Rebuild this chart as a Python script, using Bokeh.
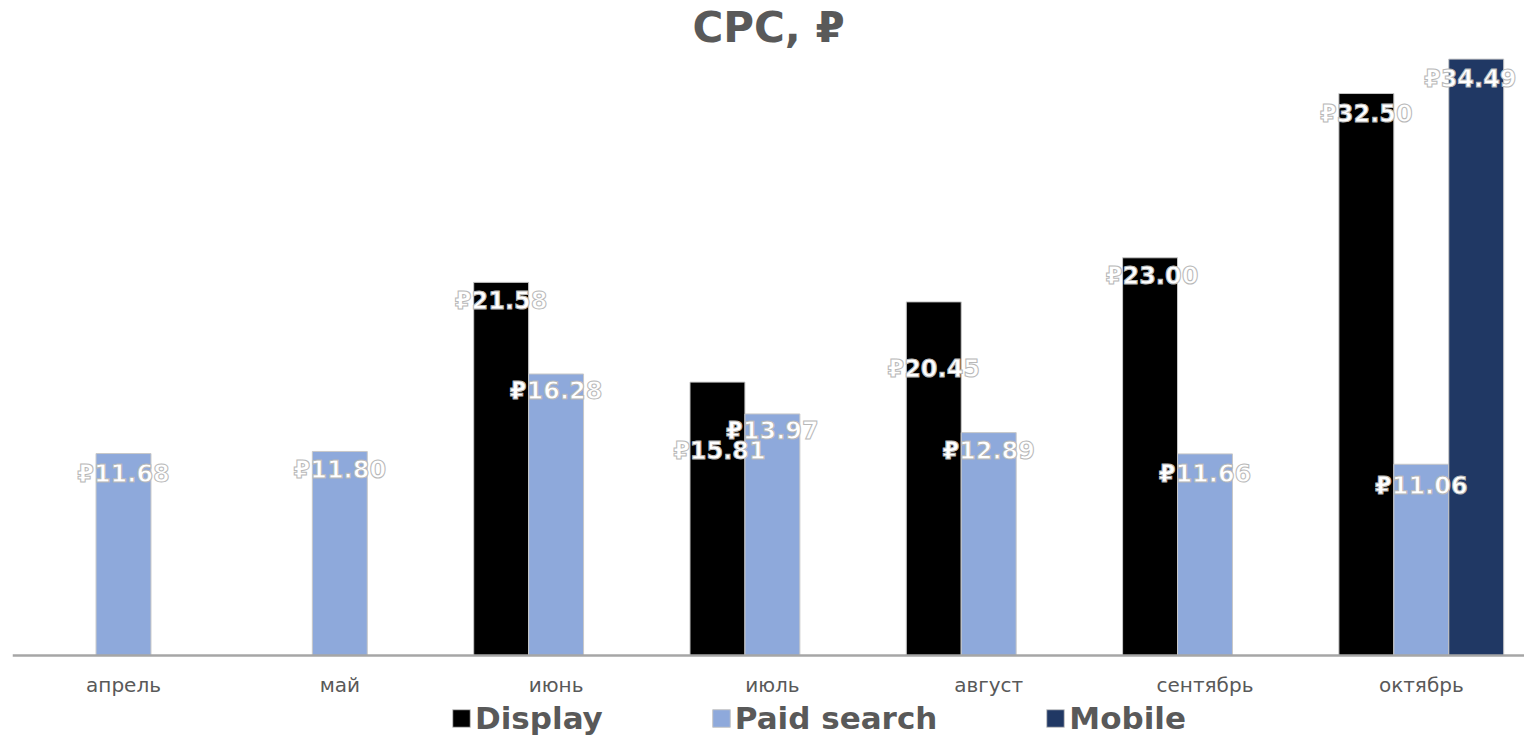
from bokeh.plotting import figure
from bokeh.models import ColumnDataSource, Range1d, Legend, LegendItem, Span
from bokeh.core.properties import value
from bokeh.embed import file_html
from bokeh.resources import INLINE

# ---- data ----
months = ["апрель", "май", "июнь", "июль", "август", "сентябрь", "октябрь"]
display_cpc = [None, None, 21.58, 15.81, 20.45, 23.00, 32.50]
paid_cpc = [11.68, 11.80, 16.28, 13.97, 12.89, 11.66, 11.06]
mobile_cpc = [None, None, None, None, None, None, 34.49]
series_names = ["Display", "Paid search", "Mobile"]
currency = "₽"

# ---- styles ----
colors = ["#000000", "#8EA9DB", "#203864"]
offsets = [-0.254, 0.0, 0.254]
bar_w = 0.254
# data label distance below the bar top (screen px) and horizontal nudge
label_dy = [
    [0, 0, 19, 69, 67, 18, 20],
    [20, 19, 17, 17, 18, 20, 22],
    [0, 0, 0, 0, 0, 0, 20],
]
label_dx = [
    [0, 0, 0, 2, 0, 2, 0],
    [0, 0, 0, 0, 0, 0, 0],
    [0, 0, 0, 0, 0, 0, -6],
]
FONT = "DejaVu Sans"
GRAY = "#595959"

p = figure(
    x_range=Range1d(-0.5132, 6.4771),
    y_range=Range1d(-4.80, 34.93),
    width=1524, height=738,
    output_backend="svg", toolbar_location=None,
    min_border_left=12, min_border_right=0, min_border_top=0, min_border_bottom=0,
)
p.title.text = "CPC, " + currency
p.title.align = "center"
p.title.text_font = FONT
p.title.text_font_style = "bold"
p.title.text_font_size = "42px"
p.title.text_color = GRAY
p.title.standoff = 0

p.outline_line_color = None
p.xgrid.visible = False
p.ygrid.visible = False
p.xaxis.visible = False
p.yaxis.visible = False

# category axis: baseline + month labels
p.add_layout(Span(location=0, dimension="width", line_color="#a6a6a6", line_width=2.5))
cat_idx = list(range(len(months)))
cat_src = ColumnDataSource(dict(x=cat_idx, y=[0] * len(months), month=months))
p.text(x="x", y="y", text="month", source=cat_src, y_offset=30,
       text_align="center", text_baseline="middle",
       text_font=value(FONT), text_font_size="20px", text_color=GRAY)

items = []
sources = []
for s, vals in enumerate([display_cpc, paid_cpc, mobile_cpc]):
    xs, ys, labels, dys, dxs = [], [], [], [], []
    for i, v in enumerate(vals):
        if v is None:
            continue
        xs.append(cat_idx[i] + offsets[s])
        ys.append(v)
        labels.append(f"{currency}{v:.2f}")
        dys.append(label_dy[s][i])
        dxs.append(label_dx[s][i])
    src = ColumnDataSource(dict(x=xs, val=ys, label=labels, dy=dys, dx=dxs))
    sources.append(src)
    r = p.vbar(x="x", top="val", bottom=0, width=bar_w,
               source=src, fill_color=colors[s], line_color="#c8c8c8", line_width=1)
    items.append(LegendItem(label=series_names[s], renderers=[r]))

for s, src in enumerate(sources):
    p.text(x="x", y="val", text="label", x_offset="dx", y_offset="dy", source=src,
           text_align="center", text_baseline="middle",
           text_font=value(FONT), text_font_style="bold", text_font_size="24px",
           text_color="white", text_outline_color="#b8b8b8")

legend = Legend(items=items, orientation="horizontal", location=(438, 2),
                glyph_width=22, glyph_height=22, label_standoff=3, spacing=107,
                padding=0, margin=0, border_line_color=None, background_fill_alpha=0,
                label_text_font=FONT, label_text_font_style="bold",
                label_text_font_size="31px", label_text_color=GRAY)
p.add_layout(legend, "center")

open("out.html", "w").write(file_html(p, INLINE))
